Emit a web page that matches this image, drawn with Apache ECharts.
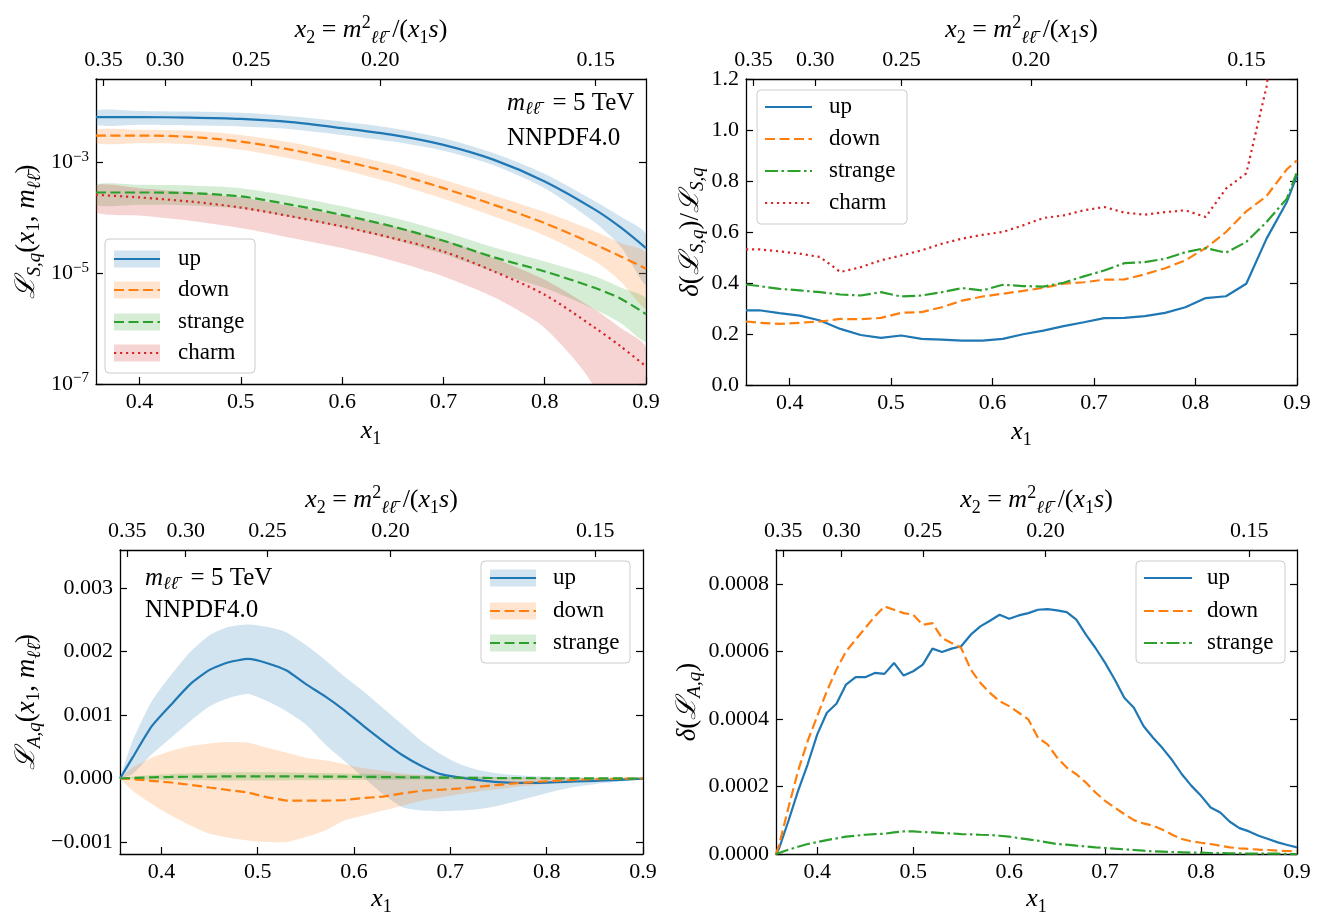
<!DOCTYPE html>
<html><head><meta charset="utf-8">
<script src="https://cdn.jsdelivr.net/npm/echarts@6/dist/echarts.min.js"></script>
<style>html,body{margin:0;padding:0;background:#fff}#c{width:1321px;height:917px}</style>
</head><body><div id="c"></div>
<script>
// ---------- axis ticks ----------
const X_MIN = 0.357, X_MAX = 0.9;
const K = 25 / 196; // m_ll^2 / s  (m = 5 TeV, sqrt(s) = 14 TeV)
const x1Ticks = [0.4, 0.5, 0.6, 0.7, 0.8, 0.9];
const x2Ticks = [0.35, 0.30, 0.25, 0.20, 0.15];
const tlYTicks = [1e-7, 1e-5, 1e-3];
const blYTicks = [-0.001, 0, 0.001, 0.002, 0.003];
const brYTicks = [0, 0.0002, 0.0004, 0.0006, 0.0008];
const seriesNamesS = ['up', 'down', 'strange', 'charm'];
const seriesNamesA = ['up', 'down', 'strange'];

// ---------- top-left: L_S,q (log) ----------
const xTL = [0.357,0.40,0.45,0.50,0.55,0.60,0.65,0.70,0.75,0.80,0.85,0.875,0.90];
const tlUp      = [6.47e-3,6.47e-3,6.38e-3,6.04e-3,5.26e-3,4.10e-3,3.10e-3,2.05e-3,1.10e-3,4.49e-4,1.38e-4,6.65e-5,2.82e-5];
const tlUpHi    = [8.53e-3,8.41e-3,8.18e-3,7.75e-3,6.75e-3,5.41e-3,4.10e-3,2.70e-3,1.45e-3,6.17e-4,1.95e-4,1.04e-4,5.04e-5];
const tlUpLo    = [4.71e-3,4.71e-3,4.58e-3,4.40e-3,3.94e-3,3.10e-3,2.35e-3,1.60e-3,8.71e-4,3.40e-4,8.07e-5,2.98e-5,6.17e-6];
const tlDown    = [3.02e-3,3.02e-3,2.86e-3,2.35e-3,1.67e-3,1.06e-3,6.34e-4,3.40e-4,1.70e-4,7.96e-5,3.24e-5,2.00e-5,1.20e-5];
const tlDownHi  = [3.83e-3,3.83e-3,3.67e-3,3.10e-3,2.26e-3,1.45e-3,8.95e-4,4.81e-4,2.51e-4,1.26e-4,5.64e-5,3.47e-5,2.29e-5];
const tlDownLo  = [2.20e-3,2.20e-3,2.11e-3,1.67e-3,1.15e-3,7.28e-4,4.19e-4,2.18e-4,1.05e-4,4.77e-5,1.62e-5,7.08e-6,2.34e-6];
const tlStr     = [2.84e-4,2.84e-4,2.76e-4,2.41e-4,1.70e-4,1.12e-4,6.93e-5,3.83e-5,1.92e-5,1.07e-5,5.37e-6,3.45e-6,1.82e-6];
const tlStrHi   = [3.91e-4,3.91e-4,3.80e-4,3.40e-4,2.44e-4,1.61e-4,1.01e-4,5.64e-5,2.90e-5,1.62e-5,8.71e-6,5.52e-6,3.45e-6];
const tlStrLo   = [1.70e-4,1.70e-4,1.66e-4,1.44e-4,1.01e-4,6.65e-5,4.05e-5,2.20e-5,1.04e-5,5.37e-6,2.18e-6,1.26e-6,5.87e-7];
const tlCharm   = [2.58e-4,2.31e-4,1.95e-4,1.52e-4,1.05e-4,6.93e-5,4.28e-5,2.45e-5,1.07e-5,4.07e-6,1.02e-6,4.77e-7,2.08e-7];
const tlCharmHi = [3.80e-4,3.40e-4,2.88e-4,2.31e-4,1.61e-4,1.09e-4,6.93e-5,3.99e-5,1.86e-5,7.59e-6,2.18e-6,1.02e-6,4.45e-7];
const tlCharmLo = [1.26e-4,1.09e-4,8.77e-5,6.47e-5,4.28e-5,2.82e-5,1.67e-5,8.71e-6,3.65e-6,1.02e-6,8e-8,1e-9,1e-9];

// ---------- top-right: relative uncertainty ----------
const xTR = [0.357,0.37,0.39,0.41,0.43,0.45,0.47,0.49,0.51,0.53,0.55,0.57,0.59,0.61,0.63,0.65,0.67,0.69,0.71,0.73,0.75,0.77,0.79,0.81,0.83,0.85,0.87,0.89,0.90];
const trUp    = [0.293,0.293,0.282,0.272,0.253,0.220,0.196,0.185,0.194,0.181,0.178,0.174,0.174,0.181,0.199,0.213,0.231,0.246,0.262,0.263,0.270,0.283,0.305,0.341,0.348,0.397,0.574,0.718,0.822];
const trDown  = [0.249,0.244,0.240,0.244,0.249,0.259,0.258,0.263,0.283,0.286,0.305,0.331,0.347,0.358,0.369,0.381,0.397,0.403,0.413,0.414,0.434,0.458,0.489,0.537,0.600,0.681,0.741,0.846,0.881];
const trStr   = [0.394,0.388,0.377,0.371,0.364,0.355,0.351,0.364,0.347,0.351,0.364,0.380,0.371,0.393,0.388,0.386,0.401,0.426,0.449,0.478,0.482,0.495,0.521,0.537,0.519,0.561,0.639,0.731,0.836];
const trCharm = [0.532,0.532,0.524,0.515,0.502,0.443,0.462,0.489,0.508,0.528,0.554,0.574,0.589,0.600,0.626,0.655,0.665,0.685,0.698,0.676,0.668,0.678,0.685,0.659,0.770,0.830,1.170,1.8,2.2];

// ---------- bottom-left: L_A,q ----------
const xBL = [0.357,0.37,0.39,0.41,0.43,0.45,0.47,0.49,0.51,0.53,0.55,0.57,0.59,0.61,0.63,0.65,0.67,0.69,0.71,0.73,0.75,0.77,0.79,0.81,0.83,0.85,0.87,0.89,0.90];
const blUp     = [0,0.328e-3,0.823e-3,1.161e-3,1.484e-3,1.708e-3,1.828e-3,1.880e-3,1.813e-3,1.698e-3,1.484e-3,1.292e-3,1.073e-3,0.823e-3,0.589e-3,0.370e-3,0.198e-3,0.068e-3,0.016e-3,-0.026e-3,-0.057e-3,-0.068e-3,-0.068e-3,-0.057e-3,-0.047e-3,-0.036e-3,-0.026e-3,-0.010e-3,-0.005e-3];
const blUpHi   = [0,0.589e-3,1.214e-3,1.630e-3,1.995e-3,2.255e-3,2.385e-3,2.422e-3,2.385e-3,2.297e-3,2.099e-3,1.865e-3,1.604e-3,1.370e-3,1.109e-3,0.849e-3,0.589e-3,0.380e-3,0.224e-3,0.130e-3,0.078e-3,0.052e-3,0.036e-3,0.026e-3,0.021e-3,0.016e-3,0.010e-3,0.005e-3,0];
const blUpLo   = [0,0.068e-3,0.380e-3,0.641e-3,0.901e-3,1.135e-3,1.266e-3,1.328e-3,1.214e-3,1.057e-3,0.849e-3,0.536e-3,0.276e-3,0.016e-3,-0.245e-3,-0.453e-3,-0.505e-3,-0.516e-3,-0.505e-3,-0.479e-3,-0.427e-3,-0.349e-3,-0.271e-3,-0.193e-3,-0.130e-3,-0.089e-3,-0.057e-3,-0.026e-3,-0.005e-3];
const blDown   = [0,-0.010e-3,-0.036e-3,-0.063e-3,-0.099e-3,-0.141e-3,-0.182e-3,-0.219e-3,-0.297e-3,-0.349e-3,-0.349e-3,-0.349e-3,-0.339e-3,-0.307e-3,-0.286e-3,-0.234e-3,-0.193e-3,-0.177e-3,-0.156e-3,-0.130e-3,-0.099e-3,-0.073e-3,-0.052e-3,-0.036e-3,-0.021e-3,-0.010e-3,-0.005e-3,0,0];
const blDownHi = [0,0.172e-3,0.328e-3,0.432e-3,0.510e-3,0.552e-3,0.573e-3,0.563e-3,0.484e-3,0.406e-3,0.328e-3,0.286e-3,0.224e-3,0.161e-3,0.120e-3,0.078e-3,0.057e-3,0.042e-3,0.031e-3,0.026e-3,0.021e-3,0.016e-3,0.010e-3,0.008e-3,0.005e-3,0.005e-3,0.003e-3,0.002e-3,0];
const blDownLo = [0,-0.193e-3,-0.401e-3,-0.583e-3,-0.740e-3,-0.870e-3,-0.932e-3,-0.974e-3,-1.000e-3,-1.000e-3,-0.922e-3,-0.818e-3,-0.661e-3,-0.583e-3,-0.505e-3,-0.427e-3,-0.349e-3,-0.297e-3,-0.245e-3,-0.203e-3,-0.167e-3,-0.130e-3,-0.099e-3,-0.073e-3,-0.052e-3,-0.036e-3,-0.021e-3,-0.010e-3,0];
const blStr    = [0,0.010e-3,0.018e-3,0.024e-3,0.028e-3,0.031e-3,0.033e-3,0.034e-3,0.034e-3,0.033e-3,0.032e-3,0.030e-3,0.028e-3,0.026e-3,0.023e-3,0.020e-3,0.017e-3,0.014e-3,0.011e-3,0.009e-3,0.007e-3,0.005e-3,0.004e-3,0.003e-3,0.002e-3,0.001e-3,0.001e-3,0,0];
const blStrHi  = [0,0.030e-3,0.055e-3,0.070e-3,0.082e-3,0.090e-3,0.095e-3,0.098e-3,0.098e-3,0.096e-3,0.092e-3,0.087e-3,0.080e-3,0.073e-3,0.065e-3,0.057e-3,0.049e-3,0.041e-3,0.034e-3,0.028e-3,0.022e-3,0.017e-3,0.013e-3,0.010e-3,0.007e-3,0.005e-3,0.003e-3,0.001e-3,0];
const blStrLo  = [0,-0.010e-3,-0.020e-3,-0.025e-3,-0.028e-3,-0.030e-3,-0.031e-3,-0.031e-3,-0.030e-3,-0.030e-3,-0.028e-3,-0.026e-3,-0.024e-3,-0.022e-3,-0.020e-3,-0.018e-3,-0.016e-3,-0.014e-3,-0.012e-3,-0.010e-3,-0.008e-3,-0.007e-3,-0.005e-3,-0.004e-3,-0.003e-3,-0.002e-3,-0.001e-3,-0.001e-3,0];

// ---------- bottom-right: delta(L_A,q) ----------
const xBR = [0.357,0.36,0.37,0.38,0.39,0.40,0.41,0.42,0.43,0.44,0.45,0.46,0.47,0.48,0.49,0.50,0.51,0.52,0.53,0.54,0.55,0.56,0.57,0.58,0.59,0.60,0.61,0.62,0.63,0.64,0.65,0.66,0.67,0.68,0.69,0.70,0.71,0.72,0.73,0.74,0.75,0.76,0.77,0.78,0.79,0.80,0.81,0.82,0.83,0.84,0.85,0.86,0.87,0.88,0.89,0.90];
const brUp   = [0,0.0148e-3,0.0984e-3,0.1869e-3,0.2656e-3,0.3542e-3,0.4181e-3,0.4447e-3,0.5017e-3,0.5234e-3,0.5234e-3,0.5362e-3,0.5332e-3,0.5657e-3,0.5283e-3,0.5411e-3,0.5608e-3,0.6080e-3,0.5981e-3,0.6080e-3,0.6149e-3,0.6493e-3,0.6739e-3,0.6906e-3,0.7083e-3,0.6965e-3,0.7063e-3,0.7132e-3,0.7231e-3,0.7250e-3,0.7211e-3,0.7162e-3,0.6936e-3,0.6493e-3,0.6099e-3,0.5657e-3,0.5165e-3,0.4624e-3,0.4329e-3,0.3788e-3,0.3443e-3,0.3128e-3,0.2774e-3,0.2361e-3,0.2017e-3,0.1722e-3,0.1377e-3,0.1230e-3,0.0954e-3,0.0767e-3,0.0669e-3,0.0541e-3,0.0443e-3,0.0344e-3,0.0266e-3,0.0197e-3];
const brDown = [0,0.0246e-3,0.1377e-3,0.2459e-3,0.3345e-3,0.4083e-3,0.4820e-3,0.5460e-3,0.6001e-3,0.6345e-3,0.6690e-3,0.7034e-3,0.7329e-3,0.7231e-3,0.7132e-3,0.7083e-3,0.6788e-3,0.6837e-3,0.6394e-3,0.6247e-3,0.6099e-3,0.5460e-3,0.5066e-3,0.4771e-3,0.4525e-3,0.4378e-3,0.4181e-3,0.3985e-3,0.3443e-3,0.3247e-3,0.2853e-3,0.2558e-3,0.2361e-3,0.2115e-3,0.1820e-3,0.1574e-3,0.1377e-3,0.1181e-3,0.1003e-3,0.0905e-3,0.0836e-3,0.0718e-3,0.0570e-3,0.0443e-3,0.0374e-3,0.0334e-3,0.0295e-3,0.0246e-3,0.0197e-3,0.0167e-3,0.0148e-3,0.0128e-3,0.0118e-3,0.0098e-3,0.0089e-3,0.0079e-3];
const brStr  = [0,0.0030e-3,0.0128e-3,0.0216e-3,0.0295e-3,0.0354e-3,0.0413e-3,0.0462e-3,0.0512e-3,0.0541e-3,0.0570e-3,0.0590e-3,0.0600e-3,0.0639e-3,0.0669e-3,0.0669e-3,0.0649e-3,0.0639e-3,0.0620e-3,0.0610e-3,0.0590e-3,0.0580e-3,0.0570e-3,0.0561e-3,0.0541e-3,0.0512e-3,0.0472e-3,0.0433e-3,0.0394e-3,0.0344e-3,0.0295e-3,0.0275e-3,0.0246e-3,0.0226e-3,0.0197e-3,0.0177e-3,0.0157e-3,0.0138e-3,0.0118e-3,0.0098e-3,0.0079e-3,0.0069e-3,0.0059e-3,0.0049e-3,0.0039e-3,0.0039e-3,0.0030e-3,0.0030e-3,0.0020e-3,0.0020e-3,0.0010e-3,0.0010e-3,0.0010e-3,0.0010e-3,0,0];

// ---------- styling ----------
const SERIF = "'Liberation Serif','DejaVu Serif',serif";
const CAL = "'DejaVu Serif','Liberation Serif',serif";
const BLUE = '#1f77b4', ORANGE = '#ff7f0e', GREEN = '#2ca02c', RED = '#d62728';
const fillOf = c => {
  const r = parseInt(c.slice(1,3),16), g = parseInt(c.slice(3,5),16), b = parseInt(c.slice(5,7),16);
  return `rgba(${r},${g},${b},0.2)`;
};
const SOLID = 'solid', DASH = [10, 4.5], DOT = [2.2, 3.8], DASHDOT = [13, 3.5, 2.5, 3.5];
const LW = 2.2;
const TICK_FS = 22;

function richSet(base) {
  const s = Math.round(base * 0.7);
  const LH = Math.round(base * 1.25);
  return {
    n:   {fontFamily: SERIF, fontSize: base, lineHeight: LH, color: '#000'},
    i:   {fontFamily: SERIF, fontSize: base, fontStyle: 'italic', lineHeight: LH, color: '#000'},
    cal: {fontFamily: CAL, fontSize: base, fontStyle: 'italic', lineHeight: LH, color: '#000'},
    sub: {fontFamily: SERIF, fontSize: s, lineHeight: 16, verticalAlign: 'bottom', color: '#000'},
    subi:{fontFamily: SERIF, fontSize: s, fontStyle: 'italic', lineHeight: 16, verticalAlign: 'bottom', color: '#000'},
    sup: {fontFamily: SERIF, fontSize: s, lineHeight: 16, verticalAlign: 'top', color: '#000'}
  };
}
const NAME_RICH = richSet(26);
const YNAME_RICH = richSet(27);
const ANN_RICH = richSet(25);

const grids = [
  {left: 96,  top: 79,  width: 550, height: 305},
  {left: 746, top: 79,  width: 551, height: 306},
  {left: 120, top: 550, width: 523, height: 306},
  {left: 776, top: 550, width: 521, height: 306}
];

const axisLine = {show: true, onZero: false, lineStyle: {color: '#000', width: 1.3}};
const tick = vals => ({show: true, inside: true, length: 7, customValues: vals, lineStyle: {color: '#000', width: 1.2}});
const labelBase = {color: '#000', fontFamily: SERIF, fontSize: TICK_FS};

const X1_NAME = '{i|x}{sub|1}';
const X2_NAME = '{i|x}{sub|2}{n| = }{i|m}{sup|2}{subi|ℓℓ̄}{n| /(}{i|x}{sub|1}{i|s}{n|)}';

const xAxes = [], yAxes = [];
grids.forEach((g, gi) => {
  const bottomGap = gi < 2 ? 31 : 29;
  const topGap = gi < 2 ? 32 : 33;
  xAxes.push({
    gridIndex: gi, type: 'value', position: 'bottom', min: X_MIN, max: X_MAX,
    axisLine, axisTick: tick(x1Ticks), splitLine: {show: false},
    axisLabel: Object.assign({customValues: x1Ticks, margin: 7, formatter: v => v.toFixed(1)}, labelBase),
    name: X1_NAME, nameLocation: 'middle', nameGap: bottomGap, nameTextStyle: {rich: NAME_RICH}
  });
  const x2Pos = x2Ticks.map(t => K / t);
  xAxes.push({
    gridIndex: gi, type: 'value', position: 'top', min: X_MIN, max: X_MAX,
    axisLine, axisTick: tick(x2Pos), splitLine: {show: false},
    axisLabel: Object.assign({customValues: x2Pos, margin: 8, formatter: v => (K / v).toFixed(2)}, labelBase),
    name: X2_NAME, nameLocation: 'middle', nameGap: topGap, nameTextStyle: {rich: NAME_RICH}
  });
});

const yDefs = [
  {type: 'log', min: 1e-7, max: 0.0316, ticks: tlYTicks,
   fmt: v => '{b|10}{e|−' + Math.round(-Math.log10(v)) + '}',
   name: '{cal|ℒ}{subi|S,q}{n|(}{i|x}{sub|1}{n|, }{i|m}{subi|ℓℓ̄}{n|)}', gap: 52},
  {type: 'value', min: 0, max: 1.2, ticks: [0,0.2,0.4,0.6,0.8,1.0,1.2],
   fmt: v => v.toFixed(1),
   name: '{i|δ}{n|(}{cal|ℒ}{subi|S,q}{n|)/}{cal|ℒ}{subi|S,q}', gap: 37},
  {type: 'value', min: -0.0011875, max: 0.003594, ticks: blYTicks,
   fmt: v => (v < -1e-9 ? '−' + (-v).toFixed(3) : Math.abs(v).toFixed(3)),
   name: '{cal|ℒ}{subi|A,q}{n|(}{i|x}{sub|1}{n|, }{i|m}{subi|ℓℓ̄}{n|)}', gap: 76},
  {type: 'value', min: 0, max: 0.0009, ticks: brYTicks,
   fmt: v => v.toFixed(4),
   name: '{i|δ}{n|(}{cal|ℒ}{subi|A,q}{n|)}', gap: 68}
];
const LOG_RICH = {
  b: {fontFamily: SERIF, fontSize: TICK_FS, lineHeight: 26, color: '#000'},
  e: {fontFamily: SERIF, fontSize: 15, lineHeight: 14, verticalAlign: 'top', color: '#000'}
};
yDefs.forEach((d, gi) => {
  const base = {gridIndex: gi, type: d.type, min: d.min, max: d.max, axisLine, splitLine: {show: false},
    axisTick: tick(d.ticks)};
  if (d.type === 'log') base.logBase = 10;
  yAxes.push(Object.assign({}, base, {
    position: 'left',
    axisLabel: Object.assign({customValues: d.ticks, margin: 7, formatter: d.fmt, rich: LOG_RICH}, labelBase),
    name: d.name, nameLocation: 'middle', nameGap: d.gap, nameRotate: 90, nameTextStyle: {rich: YNAME_RICH}
  }));
  yAxes.push(Object.assign({}, base, {position: 'right', axisLabel: {show: false}}));
});

// ---------- series ----------
function lineS(g, xs, ys, color, dash, smooth) {
  return {type: 'line', xAxisIndex: 2 * g, yAxisIndex: 2 * g, data: xs.map((x, i) => [x, ys[i]]),
    showSymbol: false, symbol: 'none', smooth: smooth || false, clip: true, silent: true, animation: false, z: 3,
    lineStyle: {color, width: LW, type: dash, cap: 'butt'}};
}
function bandS(g, xs, lo, hi, color, smooth) {
  return {type: 'custom', xAxisIndex: 2 * g, yAxisIndex: 2 * g, clip: true, silent: true, animation: false, z: 2,
    data: xs.map((x, i) => [x, lo[i], hi[i]]), encode: {x: 0, y: [1, 2]},
    renderItem: (params, api) => {
      if (params.dataIndex !== 0) return null;
      const pts = [];
      for (let i = 0; i < xs.length; i++) pts.push(api.coord([xs[i], hi[i]]));
      for (let i = xs.length - 1; i >= 0; i--) pts.push(api.coord([xs[i], lo[i]]));
      return {type: 'polygon', shape: {points: pts, smooth: smooth || 0}, style: {fill: fillOf(color)}};
    }};
}

const series = [
  bandS(0, xTL, tlUpLo, tlUpHi, BLUE, 0.25),     lineS(0, xTL, tlUp, BLUE, SOLID, 0.3),
  bandS(0, xTL, tlDownLo, tlDownHi, ORANGE, 0.25), lineS(0, xTL, tlDown, ORANGE, DASH, 0.3),
  bandS(0, xTL, tlStrLo, tlStrHi, GREEN, 0.25),  lineS(0, xTL, tlStr, GREEN, DASH, 0.3),
  bandS(0, xTL, tlCharmLo, tlCharmHi, RED, 0.25), lineS(0, xTL, tlCharm, RED, DOT, 0.3),

  lineS(1, xTR, trUp, BLUE, SOLID), lineS(1, xTR, trDown, ORANGE, DASH),
  lineS(1, xTR, trStr, GREEN, DASHDOT), lineS(1, xTR, trCharm, RED, DOT),

  bandS(2, xBL, blUpLo, blUpHi, BLUE, 0.2),     lineS(2, xBL, blUp, BLUE, SOLID, 0.2),
  bandS(2, xBL, blDownLo, blDownHi, ORANGE, 0.2), lineS(2, xBL, blDown, ORANGE, DASH),
  bandS(2, xBL, blStrLo, blStrHi, GREEN, 0.2),  lineS(2, xBL, blStr, GREEN, DASH),

  lineS(3, xBR, brUp, BLUE, SOLID), lineS(3, xBR, brDown, ORANGE, DASH), lineS(3, xBR, brStr, GREEN, DASHDOT)
];

// ---------- legends & annotations (graphic) ----------
const graphic = [];
function legend(box, entries, lineX0, lineX1, textX, ys, withPatch) {
  graphic.push({type: 'rect', z: 100, shape: {x: box[0], y: box[1], width: box[2], height: box[3], r: 4},
    style: {fill: 'rgba(255,255,255,0.8)', stroke: '#cccccc', lineWidth: 1}});
  entries.forEach((e, k) => {
    const y = ys[k];
    if (withPatch) graphic.push({type: 'rect', z: 101, shape: {x: lineX0, y: y - 8.5, width: lineX1 - lineX0, height: 17},
      style: {fill: fillOf(e.color)}});
    graphic.push({type: 'line', z: 102, shape: {x1: lineX0, y1: y, x2: lineX1, y2: y},
      style: {stroke: e.color, lineWidth: LW, lineDash: e.dash === SOLID ? null : e.dash}});
    graphic.push({type: 'text', z: 102, x: textX, y: y,
      style: {text: e.label, fill: '#000', font: "23px " + SERIF, verticalAlign: 'middle', align: 'left'}});
  });
}
const legTL = [
  {label: seriesNamesS[0], color: BLUE, dash: SOLID}, {label: seriesNamesS[1], color: ORANGE, dash: DASH},
  {label: seriesNamesS[2], color: GREEN, dash: DASH}, {label: seriesNamesS[3], color: RED, dash: DOT}];
const legTR = [
  {label: seriesNamesS[0], color: BLUE, dash: SOLID}, {label: seriesNamesS[1], color: ORANGE, dash: DASH},
  {label: seriesNamesS[2], color: GREEN, dash: DASHDOT}, {label: seriesNamesS[3], color: RED, dash: DOT}];
const legBL = [
  {label: seriesNamesA[0], color: BLUE, dash: SOLID}, {label: seriesNamesA[1], color: ORANGE, dash: DASH},
  {label: seriesNamesA[2], color: GREEN, dash: DASH}];
const legBR = [
  {label: seriesNamesA[0], color: BLUE, dash: SOLID}, {label: seriesNamesA[1], color: ORANGE, dash: DASH},
  {label: seriesNamesA[2], color: GREEN, dash: DASHDOT}];
legend([105, 239, 150, 134], legTL, 114, 160, 178, [259, 290, 322, 353], true);
legend([757, 90, 150, 134], legTR, 765, 812, 829, [107, 139, 171, 203], false);
legend([481, 561, 149, 102], legBL, 490, 536, 553, [578, 611, 643], true);
legend([1136, 561, 149, 102], legBR, 1144, 1192, 1207, [578, 611, 643], false);

function ann(x, y, text) {
  graphic.push({type: 'text', z: 100, x, y,
    style: {text, rich: ANN_RICH, fill: '#000', font: "25px " + SERIF, verticalAlign: 'middle', align: 'left'}});
}
const ANN_M = '{i|m}{subi|ℓℓ̄}{n|  = 5 TeV}';
const ANN_PDF = '{n|NNPDF4.0}';
ann(507, 103, ANN_M); ann(507, 138, ANN_PDF);
ann(145, 578, ANN_M); ann(145, 610, ANN_PDF);

const chart = echarts.init(document.getElementById('c'), null, {renderer: 'canvas'});
chart.setOption({
  animation: false, backgroundColor: '#fff',
  grid: grids, xAxis: xAxes, yAxis: yAxes, series, graphic
});
</script></body></html>
